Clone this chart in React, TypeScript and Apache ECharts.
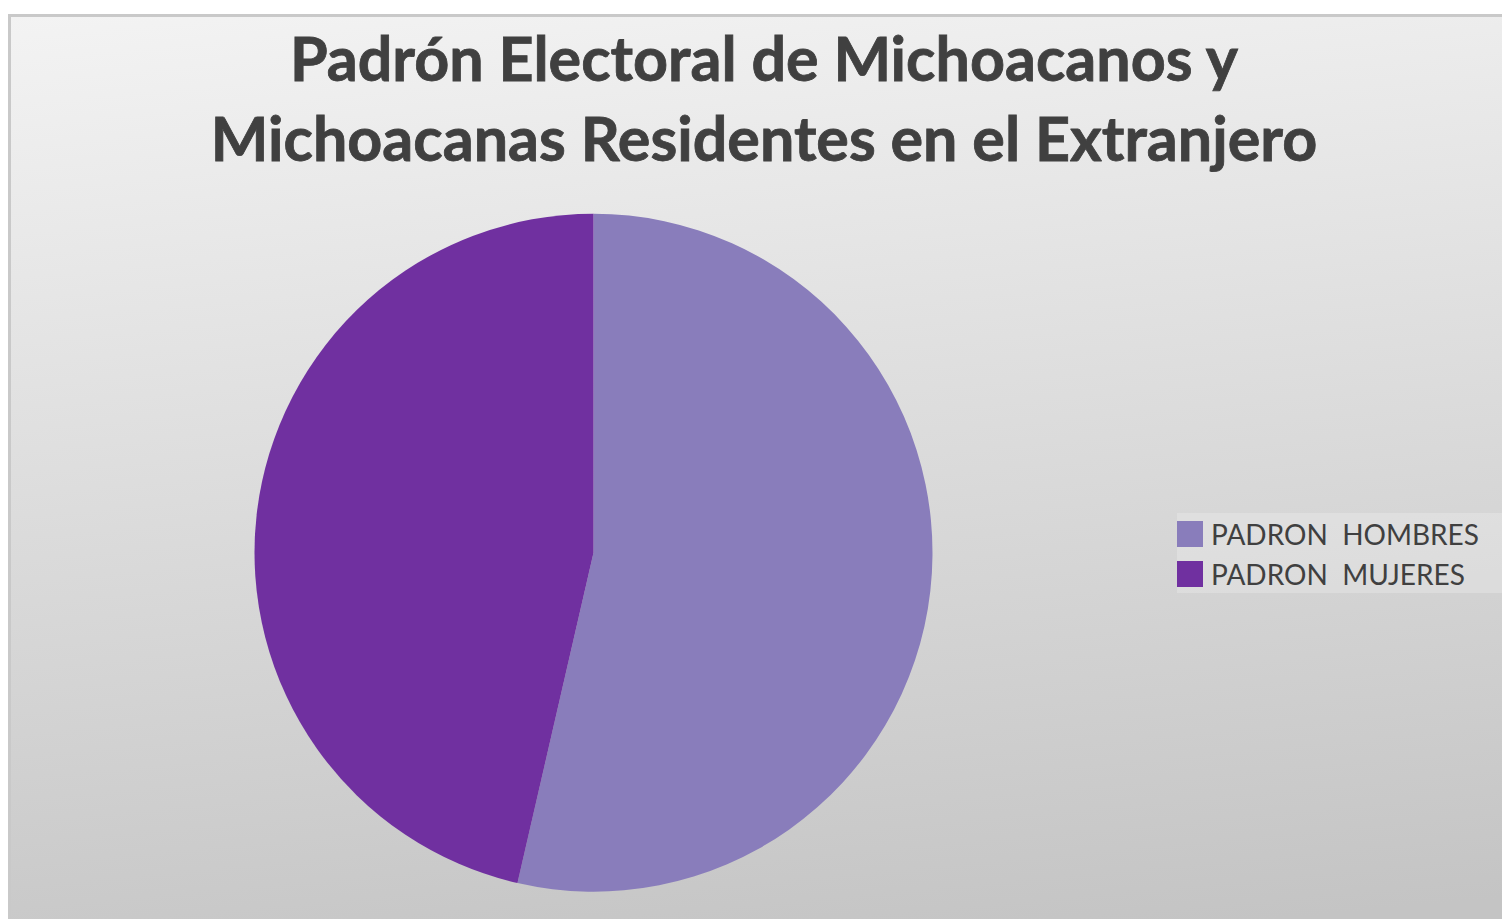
import React, { useEffect, useRef } from "react";
import * as echarts from "echarts";

const categories = ["PADRON  HOMBRES", "PADRON  MUJERES"];
const values = [53.6, 46.4];
const colors = ["#897DBB", "#7030A0"];
const titleLines = ["Padrón Electoral de Michoacanos y", "Michoacanas Residentes en el Extranjero"];

export default function App() {
  const ref = useRef<HTMLDivElement>(null);
  useEffect(() => {
    document.body.style.margin = "0";
    const chart = echarts.init(ref.current!, null, { renderer: "svg" });
    chart.setOption({
      animation: false,
      backgroundColor: "#ffffff",
      graphic: [
        {
          type: "rect",
          z: -10,
          shape: { x: 9.5, y: 15.5, width: 1600, height: 1000 },
          style: {
            stroke: "#c9c9c9",
            lineWidth: 3,
            fill: new echarts.graphic.LinearGradient(0, 0, 0.15, 1, [
              { offset: 0, color: "#f3f3f3" },
              { offset: 1, color: "#c4c4c4" },
            ]),
          },
        },
        {
          type: "rect",
          z: -5,
          shape: { x: 1177, y: 513, width: 340, height: 80 },
          style: { fill: "rgba(255,255,255,0.22)" },
        },
        {
          type: "text",
          x: 764,
          y: 17,
          style: {
            text: titleLines.join("\n"),
            font: "bold 61px Lato",
            fill: "#404040",
            stroke: "#404040",
            lineWidth: 0.8,
            textAlign: "center",
            lineHeight: 80,
          },
        },
      ],
      legend: {
        orient: "vertical",
        left: 1177,
        top: 520,
        padding: 0,
        itemWidth: 26,
        itemHeight: 26,
        itemGap: 12,
        icon: "rect",
        textStyle: { fontFamily: "Lato", fontSize: 28, color: "#404040", padding: [0, 0, 0, 3] },
        data: categories,
      },
      series: [
        {
          type: "pie",
          center: [593.5, 552.7],
          radius: 339,
          startAngle: 90,
          clockwise: true,
          label: { show: false },
          labelLine: { show: false },
          emphasis: { disabled: true },
          data: categories.map((c, i) => ({ name: c, value: values[i], itemStyle: { color: colors[i] } })),
        },
      ],
    });
    return () => chart.dispose();
  }, []);
  return <div ref={ref} style={{ width: 1502, height: 919 }} />;
}
